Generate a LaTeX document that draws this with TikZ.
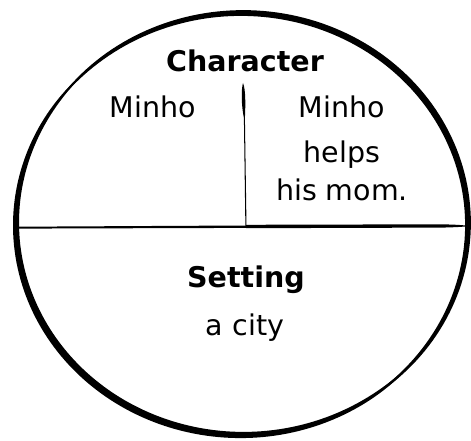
\documentclass[tikz,border=0pt]{standalone}
\usepackage{fontspec}
\setmainfont{DejaVu Sans}
\begin{document}
\begin{tikzpicture}[x=1pt,y=1pt,
  txt/.style={inner sep=0pt, anchor=base, font=\fontsize{28.5}{34}\selectfont},
  head/.style={inner sep=0pt, anchor=base, font=\fontsize{28.5}{34}\selectfont\bfseries},
  ink/.style={fill=black}]
\useasboundingbox (0,0) rectangle (471,440);
% hand-drawn ring, stroke 1 (upper left, down the left side, across the bottom)
\fill[ink] plot[variable=\t, domain=135:318, samples=120]
  ({242+(226+3.6*sqrt(abs(sin((\t-135)*0.98361))))*cos(\t)},
   {216+(211+3.6*sqrt(abs(sin((\t-135)*0.98361))))*sin(\t)})
  -- plot[variable=\t, domain=318:135, samples=120]
  ({242+(226-3.6*sqrt(abs(sin((\t-135)*0.98361))))*cos(\t)},
   {216+(211-3.6*sqrt(abs(sin((\t-135)*0.98361))))*sin(\t)}) -- cycle;
% stroke 2 (lower right, up the right side, over the top)
\fill[ink] plot[variable=\t, domain=305:505, samples=120]
  ({242+(226+3.3*sqrt(abs(sin((\t-305)*0.9))))*cos(\t)},
   {216+(211+3.3*sqrt(abs(sin((\t-305)*0.9))))*sin(\t)})
  -- plot[variable=\t, domain=505:305, samples=120]
  ({242+(226-3.3*sqrt(abs(sin((\t-305)*0.9))))*cos(\t)},
   {216+(211-3.3*sqrt(abs(sin((\t-305)*0.9))))*sin(\t)}) -- cycle;
% horizontal divider
\coordinate (hl) at (19,212.3);
\coordinate (hm) at (246,213.2);
\coordinate (hr) at (468,214);
\fill[ink] (19,211.4) -- (246,212.1) -- (246,214.5) -- (19,213.3) -- cycle;
\fill[ink] (246,211.8) -- (440,212.4) .. controls (455,212.6) and (465,213.3) .. (469,214)
  .. controls (465,214.8) and (455,215.5) .. (440,215.7) -- (246,215.2) -- cycle;
% vertical divider
\coordinate (vt) at (243,357);
\coordinate (vb) at (246,213);
\fill[ink] (243,357) .. controls (245.8,350) and (245.5,335) .. (244.9,322)
  -- (246.5,213) -- (245.4,213) -- (243.9,322)
  .. controls (241.3,335) and (241.1,350) .. (243,357) -- cycle;
% texts
\node[head] (char) at (245,368) {Character};
\node[txt] (who) at (153,322) {Minho};
\node[txt] (w1) at (342,322) {Minho};
\node[txt] (w2) at (342,278) {helps};
\node[txt] (w3) at (342,240) {his mom.};
\node[head] (set) at (246,153) {Setting};
\node[txt] (where) at (245,105) {a city};
\end{tikzpicture}
\end{document}
